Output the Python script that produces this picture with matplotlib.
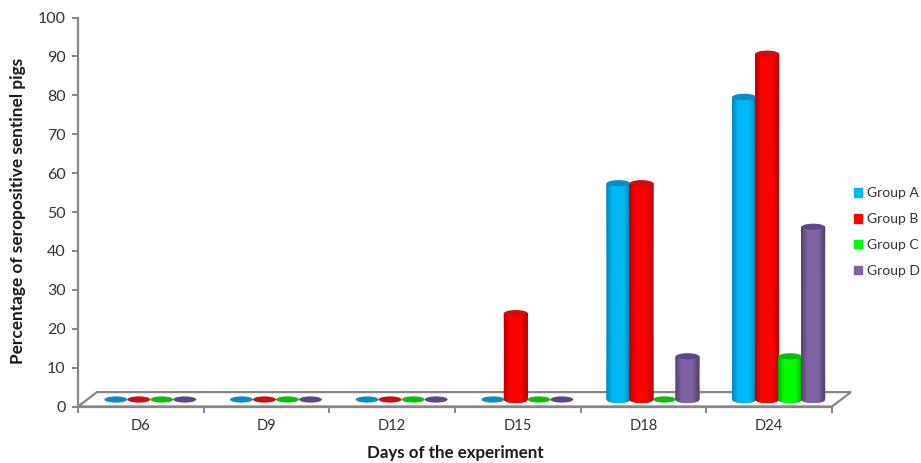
#!/usr/bin/env python3
"""Fake-3D cylinder bars: seropositive sentinel pigs per group and day."""

import numpy as np
import matplotlib
matplotlib.use("Agg")
import matplotlib.pyplot as plt
from matplotlib.colors import LinearSegmentedColormap
from matplotlib.patches import Ellipse, Patch, Polygon

plt.rcParams["font.family"] = ["Lato", "DejaVu Sans"]

days = ["D6", "D9", "D12", "D15", "D18", "D24"]
group_names = ["Group A", "Group B", "Group C", "Group D"]
group_a = [0, 0, 0, 0, 55.6, 77.8]
group_b = [0, 0, 0, 22.2, 55.6, 88.9]
group_c = [0, 0, 0, 0, 0, 11.1]
group_d = [0, 0, 0, 0, 11.1, 44.4]

BODY = ["#00b8f4", "#ff0000", "#00ff00", "#8064a2"]
EDGE = ["#0087bd", "#b80000", "#00b800", "#554170"]
CAP = ["#0e8bc2", "#c81010", "#10bb10", "#5d4788"]
GREY = "#868686"
TEXT = "#333333"

W, H = 921, 463
BAR_W = 0.183
DEPTH_X = 0.151
DEPTH_Y = 3.7
BASE = 1.8
CAP_H = 1.6


def cylinder(ax, x, value, i):
    if value > 0:
        u = np.linspace(-1, 1, 31)
        xs = x + u * BAR_W / 2
        low = BASE - CAP_H / 2 * np.sqrt(1 - u**2)
        high = np.full_like(u, BASE + value)
        cmap = LinearSegmentedColormap.from_list(
            "cyl", [EDGE[i], BODY[i], BODY[i], BODY[i], EDGE[i]]
        )
        ax.pcolormesh(
            np.vstack([xs, xs]),
            np.vstack([low, high]),
            np.vstack([u, u]),
            shading="gouraud",
            cmap=cmap,
            vmin=-1,
            vmax=1,
            zorder=3,
        )
    ax.add_patch(
        Ellipse((x, BASE + value), BAR_W, CAP_H, facecolor=CAP[i], edgecolor="none", zorder=4)
    )


fig = plt.figure(figsize=(W / 100, H / 100), dpi=100)
ax = fig.add_axes([78 / W, 1 - 406.5 / H, (832 - 78) / W, (406.5 - 17.5) / H])
ax.set_xlim(0, len(days))
ax.set_ylim(0, 100)

# floor of the 3D box
ax.add_patch(
    Polygon(
        [(0, 0), (DEPTH_X, DEPTH_Y), (len(days) + DEPTH_X, DEPTH_Y), (len(days), 0)],
        closed=True,
        facecolor="white",
        edgecolor=GREY,
        linewidth=1.6,
        clip_on=False,
        zorder=1,
    )
)

for i, series in enumerate([group_a, group_b, group_c, group_d]):
    for d, value in enumerate(series):
        x = d + 0.5 + DEPTH_X / 2 + (i - 1.5) * BAR_W
        cylinder(ax, x, value, i)

for side in ["top", "right"]:
    ax.spines[side].set_visible(False)
for side in ["left", "bottom"]:
    ax.spines[side].set_color(GREY)
    ax.spines[side].set_linewidth(1.6)

ax.set_yticks(np.arange(0, 101, 10))
ax.set_xticks(np.arange(len(days) + 1))
ax.set_xticklabels([])
ax.set_xticks(np.arange(len(days)) + 0.5, days, minor=True)
ax.tick_params(axis="y", length=4, width=1.4, color=GREY, labelsize=11.5, labelcolor=TEXT, pad=5)
ax.tick_params(axis="x", which="major", length=4, width=1.4, color=GREY)
ax.tick_params(axis="x", which="minor", length=0, labelsize=10.5, labelcolor=TEXT, pad=9)

fig.text(455 / W, 1 - 453 / H, "Days of the experiment", ha="center", va="center",
         fontsize=12.2, fontweight="bold", color="#1a1a1a")
fig.text(18 / W, 1 - 211 / H, "Percentage of seropositive sentinel pigs", ha="center",
         va="center", rotation=90, fontsize=12.4, fontweight="bold", color="#1a1a1a")

handles = [Patch(color=c, label=n) for c, n in zip(BODY, group_names)]
ax.legend(
    handles=handles,
    loc="center left",
    bbox_to_anchor=(854 / W, 1 - 232 / H),
    bbox_transform=fig.transFigure,
    frameon=False,
    fontsize=10,
    labelcolor=TEXT,
    handlelength=0.55,
    handleheight=0.6,
    handletextpad=0.4,
    labelspacing=1.0,
    borderpad=0,
    borderaxespad=0,
)

fig.savefig("out.png", dpi=100)
